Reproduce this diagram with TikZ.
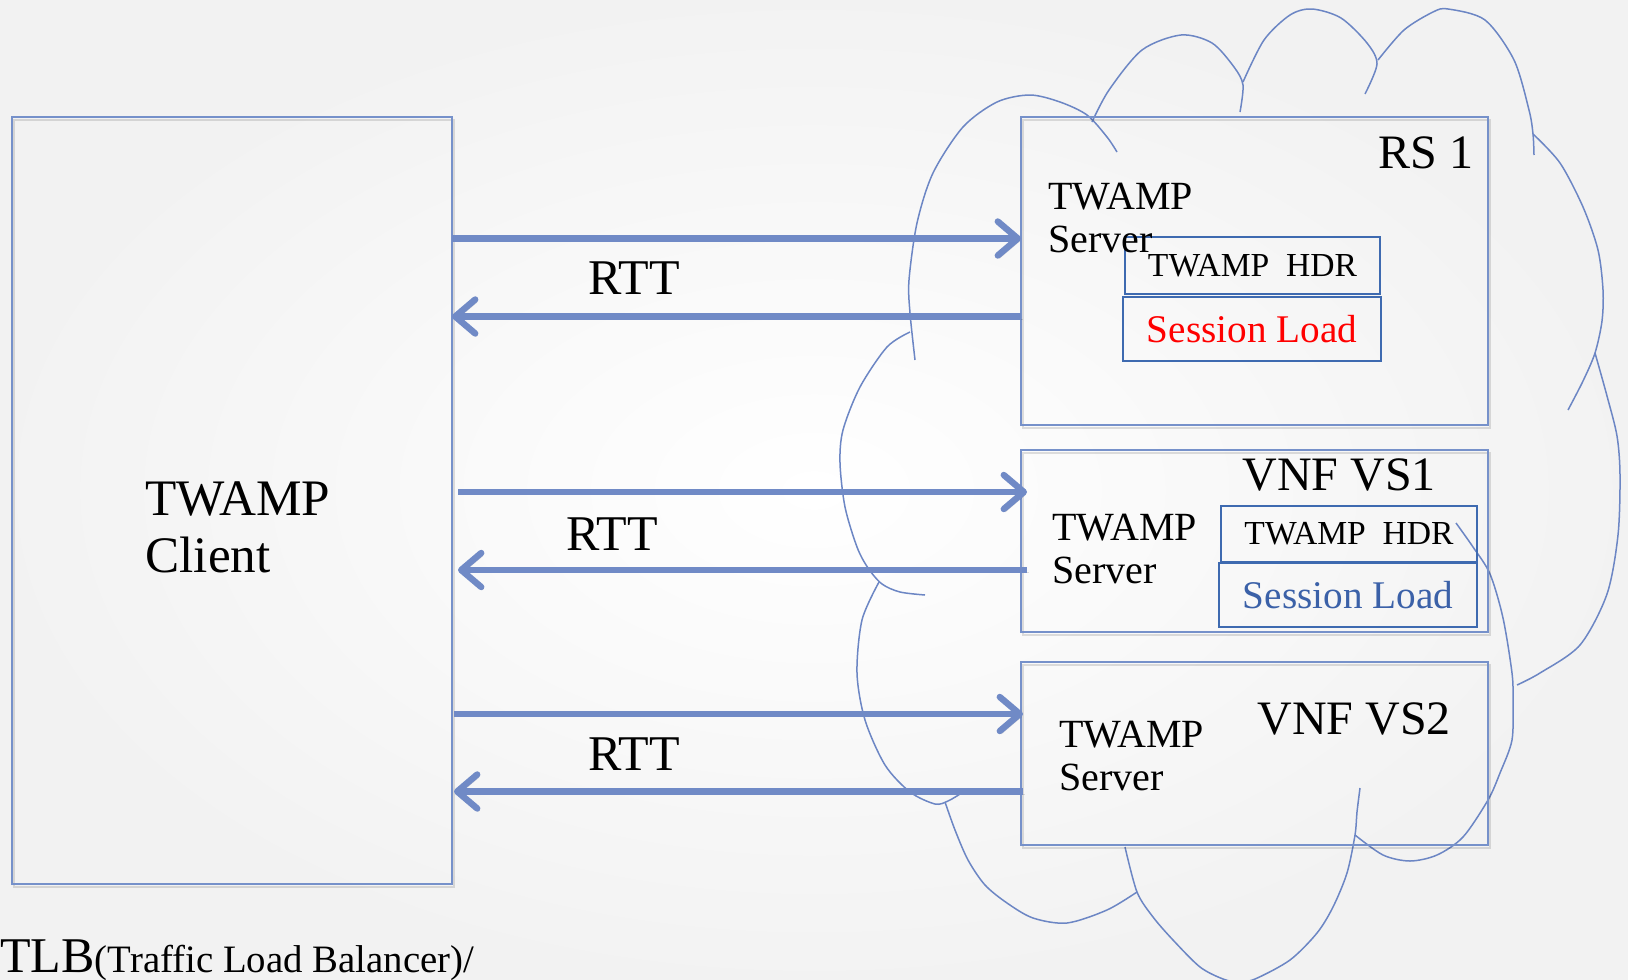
\documentclass[tikz,border=0pt]{standalone}
\usepackage{fontspec}
\setmainfont{Liberation Serif}
\usetikzlibrary{arrows.meta,fit,calc}

\definecolor{boxblue}{RGB}{118,145,202}
\definecolor{flowblue}{RGB}{112,138,198}
\definecolor{cloudblue}{RGB}{108,134,196}
\definecolor{innerblue}{RGB}{62,106,176}
\definecolor{loadblue}{RGB}{59,97,168}
\definecolor{loadred}{RGB}{255,0,0}

\begin{document}
\begin{tikzpicture}[x=0.5pt,y=-0.5pt,
        softshadow/.style={preaction={draw=black,opacity=0.12,transform canvas={shift={(0.8pt,-1.4pt)}}}},
        box/.style={draw=boxblue,line width=1pt,inner sep=0pt,outer sep=0pt,softshadow},
        inbox/.style={draw=innerblue,line width=1.3pt,inner sep=0pt,outer sep=0pt},
        flow/.style={draw=flowblue,line width=3.2pt,-{Straight Barb[length=10pt,width=17pt,round]},softshadow},
        cloudline/.style={draw=cloudblue,line width=0.75pt},
        txt/.style={inner sep=0pt,anchor=base west,align=left},
        clientfont/.style={font=\fontsize{25.6}{28.3}\selectfont},
        servfont/.style={font=\fontsize{20}{21.5}\selectfont},
        titlefont/.style={font=\fontsize{24}{28}\selectfont},
        rttfont/.style={font=\fontsize{25}{28}\selectfont},
        hdrfont/.style={font=\fontsize{16.8}{19}\selectfont},
        loadfont/.style={font=\fontsize{19.6}{23}\selectfont}]

    \useasboundingbox (0,0) rectangle (1628,980);
    \shade[inner color=white,outer color=black!5] (0,0) rectangle (1628,980);

    % cloud round the servers
    \draw[cloudline] plot[smooth] coordinates {(915,360) (910,313) (909,280) (917,223) (933,173) (963,127) (997,102) (1030,95) (1060,102) (1087,115) (1107,137) (1117,152)};
    \draw[cloudline] plot[smooth] coordinates {(1092,122) (1109,90) (1142,50) (1181,35) (1212,43) (1234,67) (1243,85) (1240,112)};
    \draw[cloudline] plot[smooth] coordinates {(1243,82) (1264,40) (1290,15) (1312,9) (1341,18) (1367,43) (1377,64) (1365,94)};
    \draw[cloudline] plot[smooth] coordinates {(1378,60) (1404,30) (1433,12) (1448,9) (1485,20) (1514,60) (1529,110) (1533,134) (1534,155)};
    \draw[cloudline] plot[smooth] coordinates {(1533,134) (1560,163) (1583,207) (1598,250) (1603,290) (1602,321) (1595,353) (1583,381) (1568,410)};
    \draw[cloudline] plot[smooth] coordinates {(1595,353) (1607,396) (1617,436) (1620,475) (1618,535) (1607,594) (1580,645) (1540,673) (1517,685)};
    \draw[cloudline] plot[smooth] coordinates {(1456,523) (1473,547) (1490,574) (1503,618) (1512,673) (1513,700) (1512,740) (1500,773) (1488,800) (1463,837) (1437,855) (1410,861) (1383,855) (1355,835)};
    \draw[cloudline] plot[smooth] coordinates {(1360,788) (1357,812) (1355,835) (1347,873) (1333,907) (1317,933) (1290,960) (1255,979) (1238,982) (1223,979) (1200,967) (1173,940) (1153,917) (1137,892) (1125,847)};
    \draw[cloudline] plot[smooth] coordinates {(1137,892) (1107,910) (1067,923) (1033,918) (1007,903) (985,885) (968,860) (955,830) (945,802)};
    \draw[cloudline] plot[smooth] coordinates {(879,582) (862,620) (857,673) (865,720) (885,765) (910,792) (935,804) (948,801) (960,794)};
    \draw[cloudline] plot[smooth] coordinates {(910,332) (887,347) (860,387) (843,430) (840,463) (845,507) (857,547) (868,568) (882,584) (900,592) (925,595)};

    % client and servers
    \node[box,fit={(12,117) (452,884)}] (client) {};
    \node[box,fit={(1021,117) (1488,425)}] (rs1) {};
    \node[box,fit={(1021,450) (1488,632)}] (vs1) {};
    \node[box,fit={(1021,662) (1488,845)}] (vs2) {};

    \node[inbox,minimum width=127.5pt,minimum height=28.5pt,hdrfont] (rs1hdr) at (1252.5,265.5) {TWAMP\ \ HDR};
    \node[inbox,minimum width=129pt,minimum height=32pt,loadfont,text=loadred] (rs1load) at (1252,329) {Session Load};
    \node[inbox,minimum width=128pt,minimum height=28pt,hdrfont] (vs1hdr) at (1349,534) {TWAMP\ \ HDR};
    \node[inbox,minimum width=129pt,minimum height=32pt,loadfont,text=loadblue] (vs1load) at (1348,595) {Session Load};

    \node[txt,clientfont] (clientname) at (145,572) {TWAMP\\Client};
    \node[txt,servfont] (rs1name) at (1048,252) {TWAMP\\Server};
    \node[txt,servfont] (vs1name) at (1052,583) {TWAMP\\Server};
    \node[txt,servfont] (vs2name) at (1059,790) {TWAMP\\Server};
    \node[txt,titlefont,anchor=base east] (rs1title) at (1474,168) {RS 1};
    \node[txt,titlefont] (vs1title) at (1242,490) {VNF VS1};
    \node[txt,titlefont] (vs2title) at (1257,734) {VNF VS2};

    % probes out and back
    \coordinate (go1) at (0,238.5);
    \coordinate (back1) at (0,316.5);
    \coordinate (go2) at (0,492);
    \coordinate (back2) at (0,570);
    \coordinate (go3) at (0,714);
    \coordinate (back3) at (0,791.5);

    \draw[flow] (client.east |- go1) -- (rs1.west |- go1);
    \draw[flow] (rs1.west |- back1) -- (client.east |- back1);
    \draw[flow] ([xshift=3pt]client.east |- go2) -- ([xshift=3pt]vs1.west |- go2);
    \draw[flow] ([xshift=3pt]vs1.west |- back2) -- ([xshift=3pt]client.east |- back2);
    \draw[flow] ([xshift=1pt]client.east |- go3) -- ([xshift=1pt]vs2.west |- go3);
    \draw[flow] ([xshift=1pt]vs2.west |- back3) -- ([xshift=1pt]client.east |- back3);

    \node[txt,rttfont] (rtt1) at (588,294) {RTT};
    \node[txt,rttfont] (rtt2) at (566,550) {RTT};
    \node[txt,rttfont] (rtt3) at (588,770) {RTT};

    \node[txt] (tlb) at (0,972) {{\fontsize{25}{30}\selectfont TLB}{\fontsize{19.4}{23}\selectfont(Traffic Load Balancer)/}};
\end{tikzpicture}
\end{document}
